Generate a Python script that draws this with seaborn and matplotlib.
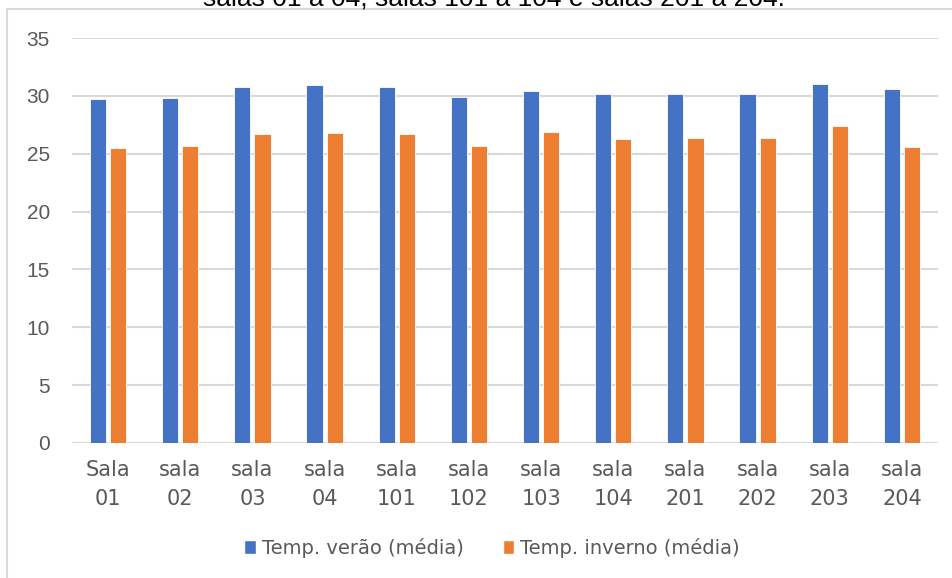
import pandas as pd
import matplotlib
matplotlib.use("Agg")
import matplotlib.pyplot as plt
from matplotlib.patches import Patch, Rectangle
import seaborn as sns

# values
salas = ["Sala\n01", "sala\n02", "sala\n03", "sala\n04", "sala\n101", "sala\n102",
         "sala\n103", "sala\n104", "sala\n201", "sala\n202", "sala\n203", "sala\n204"]
verao = [29.7, 29.8, 30.8, 30.9, 30.8, 29.9, 30.4, 30.2, 30.2, 30.2, 31.0, 30.6]
inverno = [25.5, 25.7, 26.7, 26.8, 26.7, 25.7, 26.9, 26.3, 26.4, 26.4, 27.4, 25.6]
series = ["Temp. verão (média)", "Temp. inverno (média)"]
colors = ["#4472C4", "#ED7D31"]
title = "salas 01 a 04, salas 101 a 104 e salas 201 a 204."

df = pd.DataFrame({
    "sala": salas * 2,
    "temp": verao + inverno,
    "serie": [series[0]] * len(salas) + [series[1]] * len(salas),
})

sns.set_theme(style="white")
plt.rcParams["font.family"] = ["Liberation Sans Narrow", "DejaVu Sans"]
grey = "#595959"

fig = plt.figure(figsize=(9.52, 5.78), dpi=100)
ax = fig.add_axes([72 / 952, 1 - 443 / 578, (938 - 72) / 952, (443 - 38) / 578])

sns.barplot(data=df, x="sala", y="temp", hue="serie", palette=colors,
            width=0.56, gap=0.2, saturation=1, ax=ax, legend=False,
            edgecolor="white", linewidth=0.6)

ax.set_ylim(0, 35)
ax.set_yticks(range(0, 36, 5))
ax.set_xlim(-0.5, len(salas) - 0.5)
ax.set_xlabel("")
ax.set_ylabel("")
ax.yaxis.grid(True, color="#D9D9D9", linewidth=1.5)
ax.set_axisbelow(True)
for s in ax.spines.values():
    s.set_visible(False)
ax.tick_params(axis="x", length=0, pad=12, labelsize=15, labelcolor=grey)
ax.tick_params(axis="y", length=0, pad=16, labelsize=15, labelcolor=grey)
for lbl in ax.get_xticklabels():
    lbl.set_linespacing(1.6)
for lbl in ax.get_yticklabels():
    lbl.set_fontfamily(["Liberation Sans", "DejaVu Sans"])

handles = [Patch(facecolor=c, label=s) for c, s in zip(colors, series)]
fig.legend(handles=handles, loc="center", bbox_to_anchor=(492 / 952, 1 - 548 / 578),
           ncol=2, frameon=False, fontsize=14, labelcolor=grey,
           handlelength=0.6, handleheight=0.75, handletextpad=0.3, columnspacing=2.0)

# chart frame and the clipped title above it
fig.patches.append(Rectangle((7 / 952, -0.01), 1.0, 1 - 9 / 578 + 0.01,
                             transform=fig.transFigure, fill=False,
                             edgecolor="#D9D9D9", linewidth=1.5))
fig.text(494 / 952, 1 - 5.5 / 578, title, ha="center", va="baseline",
         fontsize=19, color="black", family=["Liberation Sans", "DejaVu Sans"])

fig.savefig("out.png", dpi=100)
